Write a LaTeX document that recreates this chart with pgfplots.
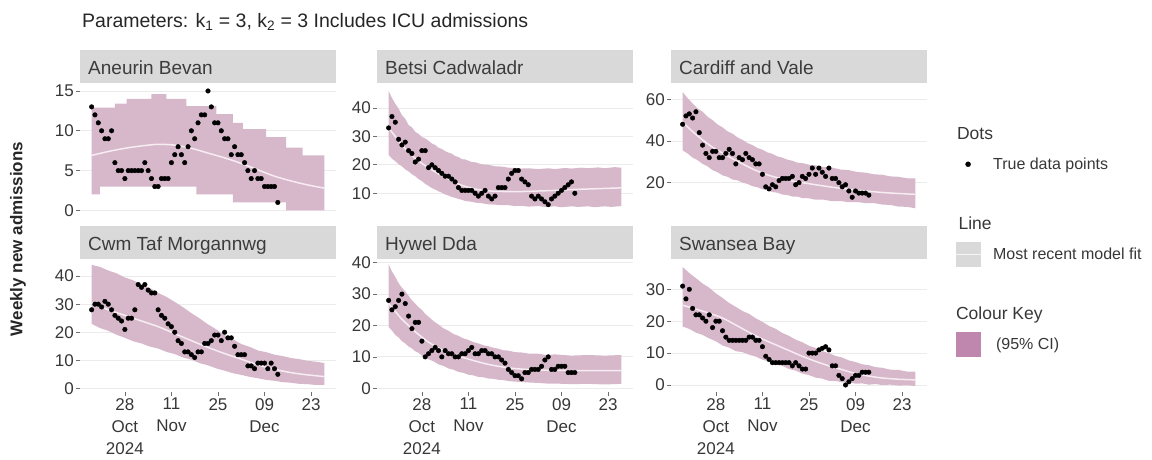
\documentclass[border=0pt]{standalone}
\usepackage{fontspec}
\setmainfont{Liberation Sans}
\usepackage{pgfplots}
\pgfplotsset{compat=1.18}
\definecolor{cifill}{RGB}{215,184,203}
\definecolor{cikey}{RGB}{191,134,174}
\definecolor{modelcol}{RGB}{246,236,242}
\definecolor{stripgrey}{RGB}{217,217,217}
\definecolor{gridcol}{RGB}{235,235,235}
\definecolor{labcol}{RGB}{55,55,55}
\definecolor{tickcol}{RGB}{110,110,110}
\definecolor{striptext}{RGB}{60,60,60}

\pgfplotsset{
  panel/.style={
    scale only axis, width=256pt, height=133pt, anchor=south west,
    xmin=-13.5, xmax=63.5,
    axis line style={draw=none},
    tick align=outside, xtick pos=bottom, ytick pos=left,
    major tick length=4pt, tick style={tickcol, line width=0.7pt},
    ymajorgrids, grid style={gridcol, line width=0.9pt},
    /pgf/number format/assume math mode=true,
    yticklabel style={font=\fontsize{17}{20}\selectfont, text=labcol, inner sep=2pt},
    xticklabel style={font=\fontsize{17}{22}\selectfont, text=labcol, align=center, inner sep=2pt},
    clip=false,
  },
  toprow/.style={xtick=\empty},
  botrow/.style={xtick={0,14,28,42,56},
    xticklabels={{28\\Oct\\2024},{11\\Nov},{25},{09\\Dec},{23}}},
  ribbon/.style={fill=cifill, draw=none, forget plot},
  modelline/.style={modelcol, line width=1.5pt, smooth, forget plot},
  dots/.style={only marks, mark=*, mark size=2.3pt, black, forget plot},
}
\newcommand{\strip}[1]{%
  \fill[stripgrey] (rel axis cs:0,1) rectangle ([yshift=33pt]rel axis cs:1,1);
  \node[anchor=base west, font=\fontsize{19}{22}\selectfont, text=striptext, inner sep=0pt]
    at ([xshift=8pt,yshift=9pt]rel axis cs:0,1) {#1};}

\begin{document}
\begin{tikzpicture}
\useasboundingbox (0pt,0pt) rectangle (1152pt,459pt);

\node[anchor=west, font=\fontsize{19.5}{23}\selectfont, text=black!85, inner sep=0pt]
  at (82pt,437pt) {Parameters: k\textsubscript{1} = 3, k\textsubscript{2} = 3 Includes ICU admissions};
\node[rotate=90, font=\bfseries\fontsize{17}{20}\selectfont, text=black!85, inner sep=0pt]
  at (18pt,220pt) {Weekly new admissions};

% ---------------- Aneurin Bevan
\begin{axis}[panel, toprow, at={(80pt,243pt)}, ymin=-0.7, ymax=16, ytick={0,5,10,15}]
\addplot[ribbon] coordinates {(-10,12.9)(-3,12.9)(-3,13.4)(0.5,13.4)(0.5,14)(8,14)(8,14.6)(12.5,14.6)(12.5,14)(18.5,14)(18.5,13.1)(27.5,13.1)(27.5,12.1)(32.5,12.1)(32.5,11)(35.5,11)(35.5,10.2)(42.5,10.2)(42.5,9.2)(48.5,9.2)(48.5,7.9)(53.5,7.9)(53.5,6.9)(60,6.9)
 (60,0)(48.5,0)(48.5,1)(32.5,1)(32.5,2)(21.5,2)(21.5,3)(-7.5,3)(-7.5,2)(-10,2)} -- cycle;
\addplot[modelline] coordinates {(-10,6.9)(-5,7.4)(0,7.8)(5,8.1)(10,8.3)(15,8.2)(20,7.8)(25,7.2)(30,6.6)(35,5.9)(40,5.1)(45,4.3)(50,3.7)(55,3.2)(60,2.8)};
\addplot[dots] table {
x y
-10 13
-9 12
-8 11
-7 10
-6 9
-5 9
-4 10
-3 6
-2 5
-1 5
0 4
1 5
2 5
3 5
4 5
5 5
6 6
7 5
8 4
9 3
10 3
11 4
12 4
13 4
14 6
15 7
16 8
17 7
18 6
19 8
20 10
21 9
22 11
23 12
24 12
25 15
26 13
27 11
28 11
29 10
30 9
31 9
32 7
33 8
34 7
35 7
36 6
37 5
38 4
39 5
40 4
41 4
42 3
43 3
44 3
45 3
46 1
};
\strip{Aneurin Bevan}
\end{axis}

% ---------------- Betsi Cadwaladr
\begin{axis}[panel, toprow, at={(377pt,243pt)}, ymin=2, ymax=48.8, ytick={10,20,30,40}]
\addplot[ribbon] coordinates {(-10,46)(-9,43.5)(-8,41.5)(-7,39.8)(-6,37.5)(-5,36.2)(-4,34)(-3,33.2)(-2,31.6)(-1,30.9)(0,29.8)(1,29.3)(2,28.5)(3,27.5)(4,27)(5,26)(6,25.6)(7,24.8)(8,24.3)(9,23.9)(10,23.1)(11,22.8)(12,22)(13,21.9)(15,21)(16,20.9)(18,20.2)(20,20)(22,19.5)(24,19.4)(26,19)(28,18.9)(30,18.7)(32,18.8)(35,18.5)(38,18.8)(40,18.5)(43,18.9)(45,18.7)(48,19)(50,18.8)(53,19.1)(55,18.8)(58,19.2)(60,19)
 (60,5.5)(57,5.2)(55,5.4)(52,5.1)(50,5.4)(47,5.2)(45,5.4)(42,5.1)(40,5.4)(37,5.2)(35,5.5)(32,5.3)(30,5.6)(28,5.5)(26,5.8)(24,5.8)(22,6)(20,6.1)(18,6.5)(16,6.7)(15,7)(13,7.3)(12,7.7)(11,8)(10,8.4)(9,8.7)(8,9.2)(7,9.6)(6,10.2)(5,10.7)(4,11.3)(3,11.8)(2,12.6)(1,13.3)(0,14.3)(-1,15)(-2,16)(-3,16.7)(-4,17.7)(-5,18.4)(-6,19.5)(-7,20.2)(-8,21.3)(-9,22.2)(-10,23.5)} -- cycle;
\addplot[modelline] coordinates {(-10,33)(-8,30)(-6,27)(-4,24.5)(-2,22.3)(0,20.5)(2,19)(4,17.5)(6,16.2)(8,15)(10,13.9)(12,12.8)(15,11.8)(18,11.1)(22,10.7)(26,10.6)(30,10.6)(35,10.8)(40,11)(45,11.3)(50,11.5)(55,11.7)(60,11.9)};
\addplot[dots] table {
x y
-10 33
-9 37
-8 35
-7 29
-6 27
-5 28
-4 25
-3 24
-2 21
-1 22
0 25
1 25
2 19
3 20
4 19
5 18
6 17
7 16
8 16
9 15
10 14
11 12
12 11
13 11
14 11
15 11
16 10
17 9
18 10
19 11
20 9
21 8
22 9
23 12
24 12
25 12
26 15
27 17
28 18
29 18
30 15
31 14
32 13
33 9
34 8
35 9
36 8
37 7
38 6
39 8
40 9
41 10
42 11
43 12
44 13
45 14
46 10
};
\strip{Betsi Cadwaladr}
\end{axis}

% ---------------- Cardiff and Vale (with legend)
\begin{axis}[panel, toprow, at={(671pt,243pt)}, ymin=4, ymax=67.8, ytick={20,40,60},
  legend style={at={(1.109,0.729)}, anchor=north west, draw=none, fill=none,
    inner sep=0pt, row sep=0pt, font=\fontsize{16}{19}\selectfont, text=labcol,
    nodes={inner sep=0pt, minimum height=30pt},
    /tikz/every odd column/.append style={column sep=12pt}},
  legend cell align=left]
\addplot[ribbon] coordinates {(-10,63.5)(-8.5,60.5)(-7,58)(-5.5,55.6)(-4,54)(-2.5,51.6)(-1,50)(0.5,47.9)(2,46.5)(3.5,44.6)(5,43.5)(6.5,41.7)(8,40.5)(9.5,39)(11,38)(12.5,36.6)(14,35.8)(15.5,34.5)(17,33.8)(18.5,32.6)(20,32)(21.5,31)(23,30.5)(24.5,29.6)(26,29.4)(28,28.6)(30,28.3)(32.5,27.5)(35,27.2)(37.5,26.3)(40,26)(42.5,25.1)(45,24.8)(47.5,24)(50,23.8)(52.5,23)(55,22.8)(57.5,22.1)(60,22)
 (60,7.7)(57.5,8.4)(55,8.5)(52.5,9.3)(50,9.5)(47.5,10.2)(45,10.2)(42.5,10.7)(40,10.6)(37.5,11.2)(35,11.1)(32.5,11.8)(30,11.8)(28,12.5)(26,12.6)(24.5,13.3)(23,13.3)(21.5,14.1)(20,14.3)(18.5,15.2)(17,15.5)(15.5,16.4)(14,16.8)(12.5,17.8)(11,18.3)(9.5,19.4)(8,20)(6.5,21.1)(5,21.5)(3.5,22.8)(2,23.5)(0.5,25)(-1,26)(-2.5,27.8)(-4,29)(-5.5,30.8)(-7,32)(-8.5,34)(-10,35.5)} -- cycle;
\addplot[modelline] coordinates {(-10,49)(-7,44.5)(-4,40.5)(-1,37)(2,34.2)(5,31.5)(8,29)(11,26.6)(14,24.6)(17,23)(20,21.8)(23,20.8)(26,20)(30,19)(35,17.8)(40,16.8)(45,16)(50,15.3)(55,14.8)(60,14.4)};
\addplot[dots] table {
x y
-10 48
-9 52
-8 53
-7 51
-6 54
-5 44
-4 38
-3 34
-2 32
-1 35
0 35
1 32
2 32
3 34
4 36
5 34
6 29
7 32
8 31
9 34
10 32
11 31
12 29
13 29
14 24
15 18
16 17
17 19
18 18
19 21
20 22
21 22
22 22
23 23
24 19
25 20
26 23
27 22
28 24
29 27
30 24
31 27
32 25
33 23
34 27
35 22
36 22
37 20
38 18
39 19
40 16
41 13
42 16
43 15
44 15
45 15
46 14
};
\strip{Cardiff and Vale}
\addlegendimage{legend image code/.code={\path[draw=none,fill=none] (0pt,-12.5pt) rectangle (25pt,12.5pt);}}
\addlegendentry{\hspace*{-37pt}\fontsize{17.5}{20}\selectfont Dots}
\addlegendimage{legend image code/.code={\path[draw=none,fill=none] (0pt,-12.5pt) rectangle (25pt,12.5pt); \fill[black] (12.5pt,0pt) circle (2.5pt);}}
\addlegendentry{True data points}
\addlegendimage{legend image code/.code={\path[draw=none,fill=none] (0pt,-12.5pt) rectangle (25pt,12.5pt);}}
\addlegendentry{}
\addlegendimage{legend image code/.code={\path[draw=none,fill=none] (0pt,-12.5pt) rectangle (25pt,12.5pt);}}
\addlegendentry{\hspace*{-37pt}\fontsize{17.5}{20}\selectfont Line}
\addlegendimage{legend image code/.code={\fill[stripgrey, draw=none] (0pt,-12.5pt) rectangle (25pt,12.5pt); \draw[white!70!stripgrey, line width=1pt] (0pt,0pt) -- (25pt,0pt);}}
\addlegendentry{Most recent model fit}
\addlegendimage{legend image code/.code={\path[draw=none,fill=none] (0pt,-12.5pt) rectangle (25pt,12.5pt);}}
\addlegendentry{}
\addlegendimage{legend image code/.code={\path[draw=none,fill=none] (0pt,-12.5pt) rectangle (25pt,12.5pt);}}
\addlegendentry{\hspace*{-37pt}\fontsize{17.5}{20}\selectfont Colour Key}
\addlegendimage{legend image code/.code={\fill[cikey, draw=none] (0pt,-12.5pt) rectangle (25pt,12.5pt);}}
\addlegendentry{\hspace*{3pt}(95\% CI)}
\end{axis}

% ---------------- Cwm Taf Morgannwg
\begin{axis}[panel, botrow, at={(80pt,67pt)}, ymin=-1.3, ymax=46.1, ytick={0,10,20,30,40}]
\addplot[ribbon] coordinates {(-10,44)(-7.5,43.3)(-5,42)(-2.5,41)(0,39.5)(2.5,38.5)(5,37)(7.5,35.8)(10,34)(12.5,32.6)(15,30.8)(17.5,28.9)(20,26.8)(22.5,24.9)(25,22.8)(27.5,21)(30,19)(32.5,17.5)(35,15.8)(37.5,14.8)(40,13.5)(42.5,12.9)(45,12)(47.5,11.5)(50,10.8)(52.5,10.4)(55,9.8)(57.5,9.5)(60,9)
 (60,1.2)(57.5,1.2)(55,1.5)(52.5,1.6)(50,2)(47.5,2.2)(45,2.7)(42.5,3)(40,3.6)(37.5,4.1)(35,4.8)(32.5,5.4)(30,6.3)(27.5,7.1)(25,8.2)(22.5,9)(20,10.2)(17.5,11)(15,12.2)(12.5,13)(10,14.2)(7.5,14.9)(5,16)(2.5,16.8)(0,18)(-2.5,19.1)(-5,20.5)(-7.5,21.5)(-10,23)} -- cycle;
\addplot[modelline] coordinates {(-10,30.5)(-5,28)(0,26)(5,24)(10,22)(15,19.5)(20,17)(25,14.6)(30,12.4)(35,10.4)(40,8.4)(45,6.8)(50,5.6)(55,4.8)(60,4.2)};
\addplot[dots] table {
x y
-10 28
-9 30
-8 30
-7 29
-6 31
-5 30
-4 28
-3 26
-2 25
-1 24
0 21
1 25
2 25
3 28
4 37
5 36
6 37
7 35
8 34
9 34
10 28
11 26
12 25
13 23
14 22
15 20
16 17
17 16
18 13
19 13
20 12
21 11
22 13
23 13
24 16
25 16
26 17
27 19
28 19
29 17
30 20
31 18
32 18
33 15
34 12
35 12
36 12
37 8
38 8
39 7
40 9
41 9
42 9
43 7
44 9
45 7
46 5
};
\strip{Cwm Taf Morgannwg}
\end{axis}

% ---------------- Hywel Dda
\begin{axis}[panel, botrow, at={(377pt,67pt)}, ymin=-1.2, ymax=41.2, ytick={0,10,20,30,40}]
\addplot[ribbon] coordinates {(-10,39.5)(-9,37.2)(-8,35.5)(-7,33.5)(-6,32)(-5,30.9)(-4,29.5)(-3,28)(-2,27)(-1,25.8)(0,25)(1,23.7)(2,22.8)(3.5,21.4)(5,20.3)(6.5,19.1)(8,18.3)(9.5,17.3)(11,16.7)(12.5,15.9)(14,15.4)(15.5,14.7)(17,14.3)(18.5,13.7)(20,13.4)(21.5,12.9)(23,12.6)(24.5,12.1)(26,12)(28,11.5)(30,11.4)(32.5,11)(35,11)(37.5,10.6)(40,10.8)(45,10.4)(50,10.6)(55,10.4)(60,10.6)
 (60,1.4)(55,1.2)(50,1.4)(45,1.3)(40,1.5)(37.5,1.5)(35,1.7)(32.5,1.8)(30,2)(28,2.1)(26,2.3)(24.5,2.6)(23,2.7)(21.5,3)(20,3.1)(18.5,3.5)(17,3.6)(15.5,4.1)(14,4.3)(12.5,4.9)(11,5.2)(9.5,5.9)(8,6.3)(6.5,7.1)(5,7.6)(3.5,8.6)(2,9.2)(1,10)(0,10.4)(-1,11.3)(-2,11.8)(-3,12.7)(-4,13.3)(-5,14.3)(-6,15)(-7,16.2)(-8,17)(-9,18.4)(-10,19.5)} -- cycle;
\addplot[modelline] coordinates {(-10,27)(-8,24.5)(-6,22)(-4,20)(-2,18)(0,16.3)(2,14.7)(5,12.8)(8,11.3)(11,10.2)(14,9.3)(17,8.4)(20,7.6)(23,7)(26,6.5)(30,6.1)(35,5.8)(40,5.7)(50,5.6)(60,5.6)};
\addplot[dots] table {
x y
-10 28
-9 25
-8 26
-7 28
-6 30
-5 27
-4 23
-3 19
-2 21
-1 21
0 15
1 10
2 11
3 12
4 13
5 12
6 10
7 12
8 11
9 11
10 10
11 10
12 11
13 11
14 12
15 13
16 11
17 11
18 12
19 12
20 11
21 11
22 10
23 10
24 9
25 8
26 6
27 5
28 4
29 4
30 3
31 5
32 5
33 6
34 6
35 6
36 7
37 9
38 10
39 6
40 6
41 7
42 7
43 7
44 5
45 5
46 5
};
\strip{Hywel Dda}
\end{axis}

% ---------------- Swansea Bay
\begin{axis}[panel, botrow, at={(671pt,67pt)}, ymin=-2.2, ymax=39.5, ytick={0,10,20,30}]
\addplot[ribbon] coordinates {(-10,37)(-8,35.1)(-6,33.5)(-4,31.8)(-2,30.5)(0,28.7)(2,27.3)(4,25.7)(6,24.5)(8,23.2)(10,22.3)(12,20.9)(14,19.8)(16,18.5)(18,17.6)(20,16.3)(22,15.4)(24,14.2)(26,13.4)(28,12.3)(30,11.6)(32,10.6)(34,10)(36,9.1)(38,8.6)(40,7.7)(42,7.2)(44,6.5)(46,6.2)(48,5.6)(50,5.4)(52.5,4.8)(55,4.7)(57.5,4.2)(60,4.2)
 (60,-0.3)(57.5,-0.1)(55,-0.2)(52.5,0.1)(50,0)(48,0.3)(46,0.1)(44,0.5)(42,0.4)(40,0.9)(38,0.8)(36,1.3)(34,1.3)(32,2)(30,2.3)(28,3.1)(26,3.6)(24,4.5)(22,5)(20,6)(18,6.5)(16,7.4)(14,7.9)(12,8.9)(10,9.5)(8,10.3)(6,10.6)(4,11.7)(2,12.4)(0,13.7)(-2,14.6)(-4,15.7)(-6,16.4)(-8,17.6)(-10,18.3)} -- cycle;
\addplot[modelline] coordinates {(-10,25)(-6,23.8)(-2,22.5)(2,21)(6,18.8)(10,16.5)(14,14.4)(18,12.6)(22,10.8)(26,9)(30,7.4)(34,6)(38,4.8)(42,3.6)(46,2.8)(50,2.2)(55,1.8)(60,1.6)};
\addplot[dots] table {
x y
-10 31
-9 27
-8 30
-7 24
-6 22
-5 22
-4 21
-3 20
-2 22
-1 18
0 20
1 20
2 17
3 15
4 14
5 14
6 14
7 14
8 14
9 14
10 15
11 15
12 14
13 14
14 12
15 9
16 8
17 7
18 7
19 7
20 7
21 7
22 7
23 6
24 7
25 6
26 5
27 5
28 10
29 10
30 10
31 11
32 11.5
33 12
34 11
35 6
36 6
37 3
38 2
39 0
40 1
41 2
42 3
43 3
44 4
45 4
46 4
};
\strip{Swansea Bay}
\end{axis}
\end{tikzpicture}
\end{document}
